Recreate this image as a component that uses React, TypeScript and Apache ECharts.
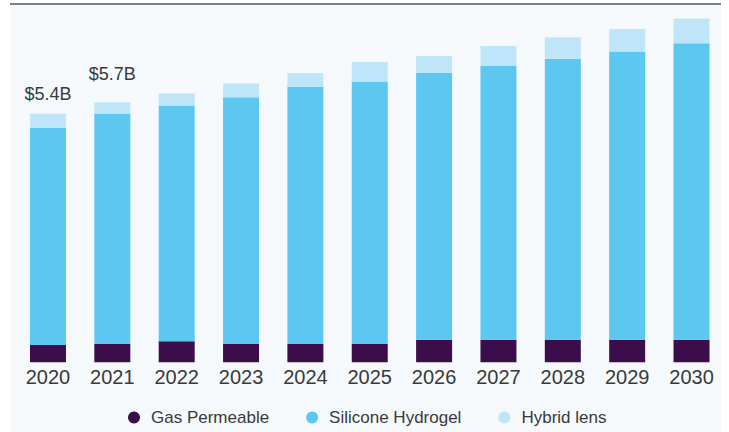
import React, { useEffect, useRef } from "react";
import * as echarts from "echarts";

const years = ["2020", "2021", "2022", "2023", "2024", "2025", "2026", "2027", "2028", "2029", "2030"];
const gasPermeable = [0.38, 0.4, 0.46, 0.4, 0.4, 0.4, 0.49, 0.49, 0.49, 0.49, 0.49];
const siliconeHydrogel = [4.74, 5.02, 5.14, 5.39, 5.62, 5.73, 5.83, 5.98, 6.14, 6.3, 6.48];
const hybridLens = [0.31, 0.26, 0.27, 0.3, 0.3, 0.43, 0.37, 0.44, 0.47, 0.49, 0.54];
const totalLabels: (string | null)[] = ["$5.4B", "$5.7B", null, null, null, null, null, null, null, null, null];
const labelDistances = [11, 19];

const COLORS = ["#3b0e4b", "#5cc7f1", "#bfe6f8"];
const FONT = "'Liberation Sans', Arial, sans-serif";

export default function App() {
  const ref = useRef<HTMLDivElement>(null);
  useEffect(() => {
    if (!ref.current) return;
    const chart = echarts.init(ref.current, undefined, { renderer: "svg" });
    const hybridData = hybridLens.map((v, i) =>
      totalLabels[i]
        ? {
            value: v,
            label: {
              show: true,
              position: "top",
              distance: labelDistances[i] ?? 10,
              formatter: totalLabels[i] as string,
              fontSize: 18,
              color: "#3a3a3a",
              fontFamily: FONT,
            },
          }
        : v
    );
    chart.setOption({
      animation: false,
      backgroundColor: "#ffffff",
      graphic: [
        {
          type: "rect",
          z: -10,
          silent: true,
          shape: { x: 10, y: 4, width: 711, height: 428 },
          style: { fill: "#f5f9fc" },
        },
        {
          type: "line",
          z: -5,
          silent: true,
          shape: { x1: 10, y1: 4, x2: 721, y2: 4 },
          style: { stroke: "#7f7f7f", lineWidth: 2 },
        },
      ],
      grid: { left: 15.8, right: 5.3, top: 14.3, bottom: 69.7, containLabel: false },
      xAxis: {
        type: "category",
        data: years,
        axisLine: { show: false },
        axisTick: { show: false },
        axisLabel: { fontSize: 20, color: "#3a3a3a", fontFamily: FONT, margin: 5 },
      },
      yAxis: { type: "value", min: 0, max: 7.6, show: false, splitLine: { show: false } },
      legend: {
        top: 404,
        left: 123,
        icon: "circle",
        itemWidth: 12,
        itemHeight: 12,
        itemGap: 37,
        textStyle: { fontSize: 17, color: "#3a3a3a", fontFamily: FONT, padding: [0, 0, 0, 6] },
        data: ["Gas Permeable", "Silicone Hydrogel", "Hybrid lens"],
      },
      series: [
        { name: "Gas Permeable", type: "bar", stack: "t", barWidth: 36, data: gasPermeable, itemStyle: { color: COLORS[0] } },
        { name: "Silicone Hydrogel", type: "bar", stack: "t", barWidth: 36, data: siliconeHydrogel, itemStyle: { color: COLORS[1] } },
        { name: "Hybrid lens", type: "bar", stack: "t", barWidth: 36, data: hybridData, itemStyle: { color: COLORS[2] } },
      ],
    });
    return () => chart.dispose();
  }, []);
  return <div ref={ref} style={{ position: "absolute", left: 0, top: 0, width: 729, height: 432 }} />;
}
